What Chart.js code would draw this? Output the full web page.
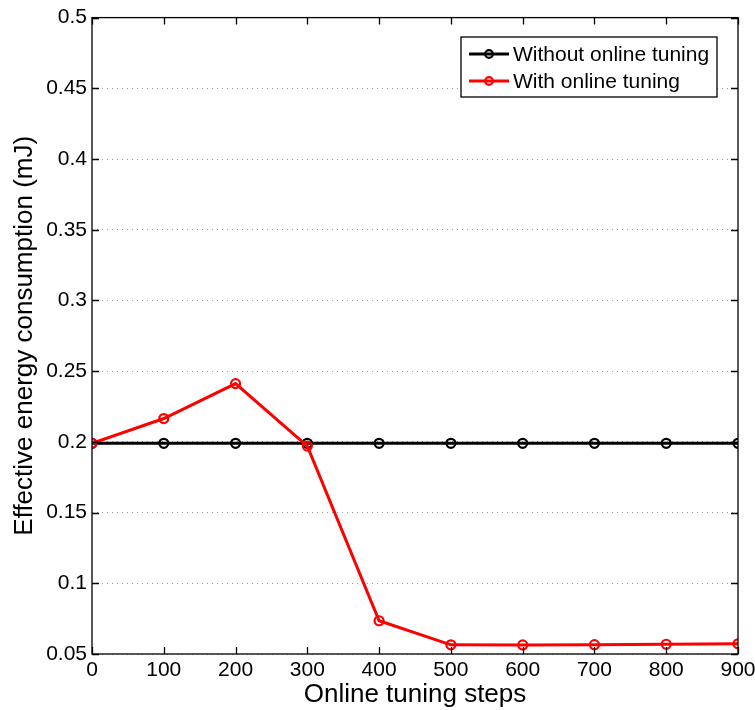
<!DOCTYPE html>
<html>
<head>
<meta charset="utf-8">
<script src="https://cdn.jsdelivr.net/npm/chart.js@4/dist/chart.umd.min.js"></script>
<style>
  html, body { margin: 0; padding: 0; background: #fff; }
  #wrap { width: 755px; height: 710px; }
</style>
</head>
<body>
<div id="wrap"><canvas id="energyChart" width="755" height="710"></canvas></div>
<script>
// datos
const pasos = [0, 100, 200, 300, 400, 500, 600, 700, 800, 900];
const sinAjuste = [0.199, 0.199, 0.199, 0.199, 0.199, 0.199, 0.199, 0.199, 0.199, 0.199];
const conAjuste = [0.199, 0.2165, 0.2412, 0.197, 0.0735, 0.0565, 0.0564, 0.0566, 0.0569, 0.0572];
const xTicks = [0, 100, 200, 300, 400, 500, 600, 700, 800, 900];
const yTicks = [0.05, 0.1, 0.15, 0.2, 0.25, 0.3, 0.35, 0.4, 0.45, 0.5];
const serieNombres = ["Without online tuning", "With online tuning"];

const FONT = "'Liberation Sans', Arial, Helvetica, sans-serif";

const toPoints = (ys) => pasos.map((x, i) => ({ x: x, y: ys[i] }));

// marco, ticks hacia dentro y leyenda
const marcoPlugin = {
    id: "marco",
    afterDatasetsDraw(chart) {
        const { ctx, chartArea: a, scales } = chart;
        ctx.save();
        ctx.strokeStyle = "#000";
        ctx.lineWidth = 1.3;
        const len = 7;
        ctx.beginPath();
        scales.x.ticks.forEach((t) => {
            const px = Math.round(scales.x.getPixelForValue(t.value)) + 0.5;
            ctx.moveTo(px, a.bottom); ctx.lineTo(px, a.bottom - len);
            ctx.moveTo(px, a.top); ctx.lineTo(px, a.top + len);
        });
        scales.y.ticks.forEach((t) => {
            const py = Math.round(scales.y.getPixelForValue(t.value)) + 0.5;
            ctx.moveTo(a.left, py); ctx.lineTo(a.left + len, py);
            ctx.moveTo(a.right, py); ctx.lineTo(a.right - len, py);
        });
        ctx.stroke();
        ctx.strokeRect(a.left, a.top, a.right - a.left, a.bottom - a.top);

        // leyenda
        const lx = 461, ly = 37, lw = 256, lh = 60;
        ctx.fillStyle = "#fff";
        ctx.fillRect(lx, ly, lw, lh);
        ctx.lineWidth = 1.3;
        ctx.strokeRect(lx, ly, lw, lh);
        const colores = ["#000", "#ff0000"];
        const filas = [ly + 17, ly + 44];
        ctx.font = "21px " + FONT;
        ctx.textBaseline = "middle";
        serieNombres.forEach((nombre, i) => {
            ctx.strokeStyle = colores[i];
            ctx.lineWidth = 3;
            ctx.beginPath();
            ctx.moveTo(lx + 8, filas[i]);
            ctx.lineTo(lx + 48, filas[i]);
            ctx.stroke();
            ctx.lineWidth = 2.2;
            ctx.beginPath();
            ctx.arc(lx + 28, filas[i], 3.8, 0, Math.PI * 2);
            ctx.stroke();
            ctx.fillStyle = "#000";
            ctx.fillText(nombre, lx + 52, filas[i] + 1);
        });
        ctx.restore();
    },
};

new Chart(document.getElementById("energyChart"), {
    type: "line",
    data: {
        datasets: [
            {
                label: serieNombres[0],
                data: toPoints(sinAjuste),
                borderColor: "#000",
                borderWidth: 3,
                pointRadius: 4.5,
                pointBorderWidth: 2.2,
                pointBorderColor: "#000",
                pointBackgroundColor: "rgba(0,0,0,0)",
                tension: 0,
                order: 1,
            },
            {
                label: serieNombres[1],
                data: toPoints(conAjuste),
                borderColor: "#ff0000",
                borderWidth: 3,
                pointRadius: 4.5,
                pointBorderWidth: 2.2,
                pointBorderColor: "#ff0000",
                pointBackgroundColor: "rgba(0,0,0,0)",
                tension: 0,
                order: 0,
            },
        ],
    },
    options: {
        responsive: false,
        animation: false,
        events: [],
        layout: { padding: { top: 13, right: 17, left: 0, bottom: 0 } },
        plugins: {
            legend: { display: false },
            tooltip: { enabled: false },
        },
        scales: {
            x: {
                type: "linear",
                min: 0,
                max: 900,
                afterBuildTicks: (scale) => {
                    scale.ticks = xTicks.map((v) => ({ value: v }));
                },
                afterFit: (scale) => {
                    scale.height = 56;
                    scale.paddingLeft = 0;
                    scale.paddingRight = 0;
                },
                ticks: {
                    color: "#000",
                    font: { family: FONT, size: 21 },
                    padding: 4,
                    maxRotation: 0,
                    autoSkip: false,
                    callback: (v) => String(v),
                },
                grid: { display: false, drawTicks: false },
                border: { display: false },
                title: {
                    display: true,
                    text: "Online tuning steps",
                    color: "#000",
                    font: { family: FONT, size: 26 },
                    padding: { top: 0, bottom: 0 },
                },
            },
            y: {
                min: 0.05,
                max: 0.5,
                afterBuildTicks: (scale) => {
                    scale.ticks = yTicks.map((v) => ({ value: v }));
                },
                afterFit: (scale) => {
                    scale.width = 92;
                },
                ticks: {
                    color: "#000",
                    font: { family: FONT, size: 21 },
                    padding: 5,
                    autoSkip: false,
                    callback: (v) => String(v),
                },
                grid: {
                    color: "#9a9a9a",
                    lineWidth: 1,
                    drawTicks: false,
                },
                border: { display: false, dash: [1, 4] },
                title: {
                    display: true,
                    text: "Effective energy consumption (mJ)",
                    color: "#000",
                    font: { family: FONT, size: 26 },
                    padding: { top: 9, bottom: 0 },
                },
            },
        },
    },
    plugins: [marcoPlugin],
});
</script>
</body>
</html>
